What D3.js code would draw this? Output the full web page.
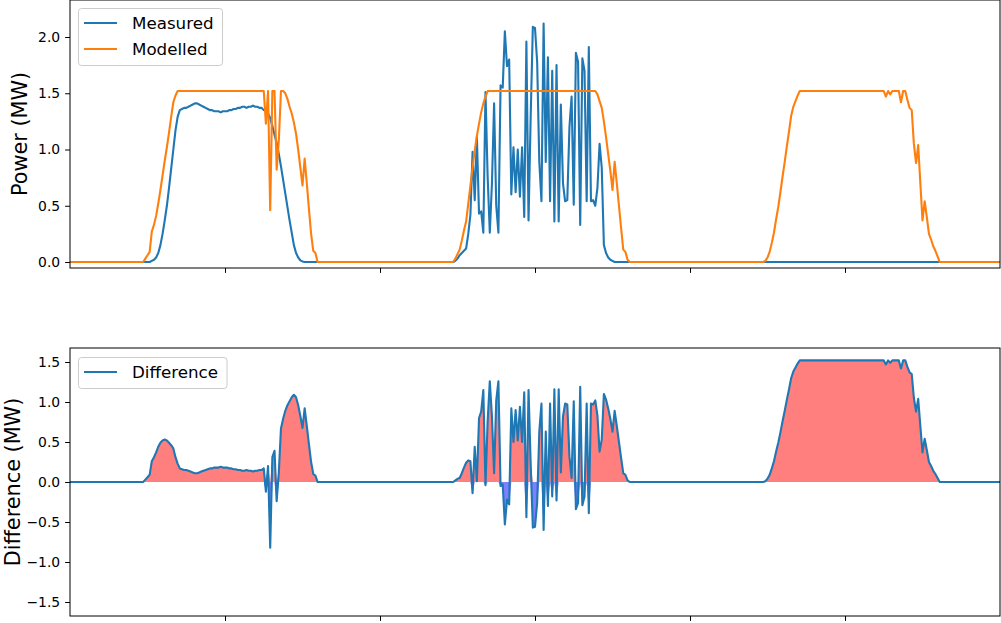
<!DOCTYPE html>
<html>
<head>
<meta charset="utf-8">
<script src="https://cdn.jsdelivr.net/npm/d3@7"></script>
<style>
  body { margin: 0; background: #fff; }
  svg { display: block; font-family: "DejaVu Sans", sans-serif; }
</style>
</head>
<body>
<svg id="chart" width="1001" height="623"></svg>
<script>
// three days of 10-minute samples (MW)
var measured = [
  0, 0, 0, 0, 0, 0, 0, 0, 0, 0, 0, 0,
  0, 0, 0, 0, 0, 0, 0, 0, 0, 0, 0, 0,
  0, 0, 0, 0, 0, 0, 0, 0, 0, 0, 0, 0,
  0, 0, .01, .02, .04, .08, .15, .25, .37, .5, .66, .83,
  1.0, 1.17, 1.29, 1.35, 1.36, 1.37, 1.37, 1.38, 1.39, 1.40, 1.41, 1.41,
  1.40, 1.39, 1.38, 1.37, 1.36, 1.35, 1.35, 1.34, 1.34, 1.34, 1.33, 1.34,
  1.34, 1.34, 1.35, 1.35, 1.36, 1.36, 1.37, 1.37, 1.38, 1.38, 1.37, 1.38,
  1.38, 1.39, 1.38, 1.38, 1.37, 1.37, 1.35, 1.35, 1.32, 1.28, 1.21, 1.13,
  1.06, .96, .85, .73, .61, .49, .37, .26, .15, .08, .04, .015,
  .005, 0, 0, 0, 0, 0, 0, 0, 0, 0, 0, 0,
  0, 0, 0, 0, 0, 0, 0, 0, 0, 0, 0, 0,
  0, 0, 0, 0, 0, 0, 0, 0, 0, 0, 0, 0,
  0, 0, 0, 0, 0, 0, 0, 0, 0, 0, 0, 0,
  0, 0, 0, 0, 0, 0, 0, 0, 0, 0, 0, 0,
  0, 0, 0, 0, 0, 0, 0, 0, 0, 0, 0, .01,
  .03, .06, .08, .1, .12, .25, .42, .98, .55, 1.11, .43, .45,
  .26, 1.51, .76, .26, .7, 1.41, .5, .26, 1.57, 1.55, 2.05, 1.74,
  1.8, .6, 1.02, .62, 1.0, .58, 1.02, .4, 1.96, .37, 1.3, 2.09,
  2.08, 1.78, .89, .54, 2.12, .89, 1.82, .54, 1.7, .36, 1.75, .36,
  1.4, .7, .54, .55, 1.2, 1.47, .51, 1.86, 1.78, .33, 1.81, 1.7,
  .54, 1.91, .54, .55, .5, .66, 1.05, .84, .15, .08, .04, .02,
  .01, 0, 0, 0, 0, 0, 0, 0, 0, 0, 0, 0,
  0, 0, 0, 0, 0, 0, 0, 0, 0, 0, 0, 0,
  0, 0, 0, 0, 0, 0, 0, 0, 0, 0, 0, 0,
  0, 0, 0, 0, 0, 0, 0, 0, 0, 0, 0, 0,
  0, 0, 0, 0, 0, 0, 0, 0, 0, 0, 0, 0,
  0, 0, 0, 0, 0, 0, 0, 0, 0, 0, 0, 0,
  0, 0, 0, 0, 0, 0, 0, 0, 0, 0, 0, 0,
  0, 0, 0, 0, 0, 0, 0, 0, 0, 0, 0, 0,
  0, 0, 0, 0, 0, 0, 0, 0, 0, 0, 0, 0,
  0, 0, 0, 0, 0, 0, 0, 0, 0, 0, 0, 0,
  0, 0, 0, 0, 0, 0, 0, 0, 0, 0, 0, 0,
  0, 0, 0, 0, 0, 0, 0, 0, 0, 0, 0, 0,
  0, 0, 0, 0, 0, 0, 0, 0, 0, 0, 0, 0,
  0, 0, 0, 0, 0, 0, 0, 0, 0, 0, 0, 0,
  0, 0, 0, 0, 0, 0, 0, 0, 0, 0, 0, 0,
  0
]

var modelled = [
  0, 0, 0, 0, 0, 0, 0, 0, 0, 0, 0, 0,
  0, 0, 0, 0, 0, 0, 0, 0, 0, 0, 0, 0,
  0, 0, 0, 0, 0, 0, 0, 0, 0, 0, 0, .03,
  .06, .09, .27, .33, .41, .52, .64, .77, .9, 1.02, 1.15, 1.29,
  1.42, 1.48, 1.52, 1.52, 1.52, 1.52, 1.52, 1.52, 1.52, 1.52, 1.52, 1.52,
  1.52, 1.52, 1.52, 1.52, 1.52, 1.52, 1.52, 1.52, 1.52, 1.52, 1.52, 1.52,
  1.52, 1.52, 1.52, 1.52, 1.52, 1.52, 1.52, 1.52, 1.52, 1.52, 1.52, 1.52,
  1.52, 1.52, 1.52, 1.52, 1.52, 1.52, 1.52, 1.23, 1.52, .46, 1.52, 1.52,
  .82, 1.08, 1.52, 1.52, 1.50, 1.45, 1.38, 1.32, 1.24, 1.14, 1.0, .84,
  .68, .92, .7, .47, .25, .1, .08, 0, 0, 0, 0, 0,
  0, 0, 0, 0, 0, 0, 0, 0, 0, 0, 0, 0,
  0, 0, 0, 0, 0, 0, 0, 0, 0, 0, 0, 0,
  0, 0, 0, 0, 0, 0, 0, 0, 0, 0, 0, 0,
  0, 0, 0, 0, 0, 0, 0, 0, 0, 0, 0, 0,
  0, 0, 0, 0, 0, 0, 0, 0, 0, 0, 0, .03,
  .07, .11, .19, .28, .36, .52, .68, .84, .99, 1.12, 1.23, 1.33,
  1.41, 1.47, 1.52, 1.52, 1.52, 1.52, 1.52, 1.52, 1.52, 1.52, 1.52, 1.52,
  1.52, 1.52, 1.52, 1.52, 1.52, 1.52, 1.52, 1.52, 1.52, 1.52, 1.52, 1.52,
  1.52, 1.52, 1.52, 1.52, 1.52, 1.52, 1.52, 1.52, 1.52, 1.52, 1.52, 1.52,
  1.52, 1.52, 1.52, 1.52, 1.52, 1.52, 1.52, 1.52, 1.52, 1.52, 1.52, 1.52,
  1.52, 1.52, 1.52, 1.52, 1.52, 1.49, 1.43, 1.37, 1.25, 1.11, .96, .81,
  .64, .89, .7, .5, .3, .11, .09, .02, 0, 0, 0, 0,
  0, 0, 0, 0, 0, 0, 0, 0, 0, 0, 0, 0,
  0, 0, 0, 0, 0, 0, 0, 0, 0, 0, 0, 0,
  0, 0, 0, 0, 0, 0, 0, 0, 0, 0, 0, 0,
  0, 0, 0, 0, 0, 0, 0, 0, 0, 0, 0, 0,
  0, 0, 0, 0, 0, 0, 0, 0, 0, 0, 0, .01,
  .04, .09, .17, .26, .38, .49, .62, .76, .89, 1.03, 1.16, 1.3,
  1.38, 1.43, 1.48, 1.52, 1.52, 1.52, 1.52, 1.52, 1.52, 1.52, 1.52, 1.52,
  1.52, 1.52, 1.52, 1.52, 1.52, 1.52, 1.52, 1.52, 1.52, 1.52, 1.52, 1.52,
  1.52, 1.52, 1.52, 1.52, 1.52, 1.52, 1.52, 1.52, 1.52, 1.52, 1.52, 1.52,
  1.52, 1.52, 1.52, 1.52, 1.52, 1.52, 1.52, 1.47, 1.52, 1.49, 1.52, 1.52,
  1.52, 1.52, 1.42, 1.52, 1.52, 1.44, 1.37, 1.35, 1.05, .88, 1.04, .7,
  .37, .54, .4, .25, .2, .14, .1, .05, 0, 0, 0, 0,
  0, 0, 0, 0, 0, 0, 0, 0, 0, 0, 0, 0,
  0, 0, 0, 0, 0, 0, 0, 0, 0, 0, 0, 0,
  0
]

var tickHours = [12, 24, 36, 48, 60]
var powerTicks = [0, 0.5, 1, 1.5, 2]
var diffTicks = [-1.5, -1, -0.5, 0, 0.5, 1, 1.5]

var blue = '#1f77b4', orange = '#ff7f0e'
var left = 70, right = 1000
var stepHours = 1 / 6

var hours = measured.map((d, i) => i * stepHours)
var difference = modelled.map((d, i) => d - measured[i])

var svg = d3.select('#chart')
svg.append('rect').attr('width', 1001).attr('height', 623).attr('fill', '#fff')

var x = d3.scaleLinear().domain([0, 72]).range([left, right])
var yPow = d3.scaleLinear().domain([-0.0533, 2.3289]).range([268, 0])
var yDiff = d3.scaleLinear().domain([-1.675, 1.675]).range([616, 348])

function frame(y, ticks, label, labelX) {
  var y0 = y.range()[1], y1 = y.range()[0]
  var g = svg.append('g')

  var ya = g.append('g').attr('transform', 'translate(' + left + ',0)')
    .call(d3.axisLeft(y).tickValues(ticks).tickFormat(d3.format('.1f'))
      .tickSize(4.9).tickPadding(4.9))
  ya.select('.domain').remove()
  ya.selectAll('text').attr('font-size', '13.9px').attr('fill', '#000')
    .attr('font-family', '"DejaVu Sans", sans-serif')

  var xa = g.append('g').attr('transform', 'translate(0,' + y1 + ')')
    .call(d3.axisBottom(x).tickValues(tickHours).tickFormat('').tickSize(4.9))
  xa.select('.domain').remove()

  g.append('rect')
    .attr('x', left).attr('y', y0)
    .attr('width', right - left).attr('height', y1 - y0)
    .attr('fill', 'none').attr('stroke', '#000').attr('stroke-width', 1)

  g.append('text')
    .attr('transform', 'translate(' + labelX + ',' + (y0 + y1) / 2 + ') rotate(-90)')
    .attr('text-anchor', 'middle')
    .attr('font-size', '20.8px')
    .text(label)
}

function legend(top, items) {
  var g = svg.append('g')
  var box = g.append('rect')
  var rowH = 26
  var maxW = 0
  items.forEach((it, k) => {
    var cy = top + 15 + k * rowH
    g.append('line').attr('x1', 84).attr('x2', 117).attr('y1', cy).attr('y2', cy)
      .attr('stroke', it.color).attr('stroke-width', 2.1)
    var t = g.append('text').attr('x', 132).attr('y', cy).attr('dy', '0.36em')
      .attr('font-size', '16.7px').text(it.name)
    maxW = Math.max(maxW, t.node().getComputedTextLength())
  })
  box.attr('x', 78.5).attr('y', top + 0.5)
    .attr('width', 132 + maxW + 9 - 78.5)
    .attr('height', items.length * rowH + 5)
    .attr('rx', 3).attr('fill', '#fff').attr('fill-opacity', 0.8)
    .attr('stroke', '#ccc').attr('stroke-width', 1)
}

svg.append('clipPath').attr('id', 'clipTop').append('rect')
  .attr('x', left).attr('y', 0).attr('width', right - left).attr('height', 268)
svg.append('clipPath').attr('id', 'clipBot').append('rect')
  .attr('x', left).attr('y', 348).attr('width', right - left).attr('height', 268)

// top panel: measured vs modelled
var topG = svg.append('g').attr('clip-path', 'url(#clipTop)')
var linePow = d3.line().x((d, i) => x(hours[i])).y(d => yPow(d))
topG.append('path').datum(measured).attr('d', linePow)
  .attr('fill', 'none').attr('stroke', blue).attr('stroke-width', 2.1)
  .attr('stroke-linejoin', 'round')
topG.append('path').datum(modelled).attr('d', linePow)
  .attr('fill', 'none').attr('stroke', orange).attr('stroke-width', 2.1)
  .attr('stroke-linejoin', 'round')

// bottom panel: difference with shaded areas
var botG = svg.append('g').attr('clip-path', 'url(#clipBot)')
var areaPos = d3.area().x((d, i) => x(hours[i])).y0(yDiff(0)).y1(d => yDiff(Math.max(d, 0)))
var areaNeg = d3.area().x((d, i) => x(hours[i])).y0(yDiff(0)).y1(d => yDiff(Math.min(d, 0)))
botG.append('path').datum(difference).attr('d', areaPos)
  .attr('fill', 'red').attr('fill-opacity', 0.5)
botG.append('path').datum(difference).attr('d', areaNeg)
  .attr('fill', 'blue').attr('fill-opacity', 0.5)
var lineDiff = d3.line().x((d, i) => x(hours[i])).y(d => yDiff(d))
botG.append('path').datum(difference).attr('d', lineDiff)
  .attr('fill', 'none').attr('stroke', blue).attr('stroke-width', 2.1)
  .attr('stroke-linejoin', 'round')

frame(yPow, powerTicks, 'Power (MW)', 27)
frame(yDiff, diffTicks, 'Difference (MW)', 20)

legend(8, [{ name: 'Measured', color: blue }, { name: 'Modelled', color: orange }])
legend(357, [{ name: 'Difference', color: blue }])
</script>
</body>
</html>
